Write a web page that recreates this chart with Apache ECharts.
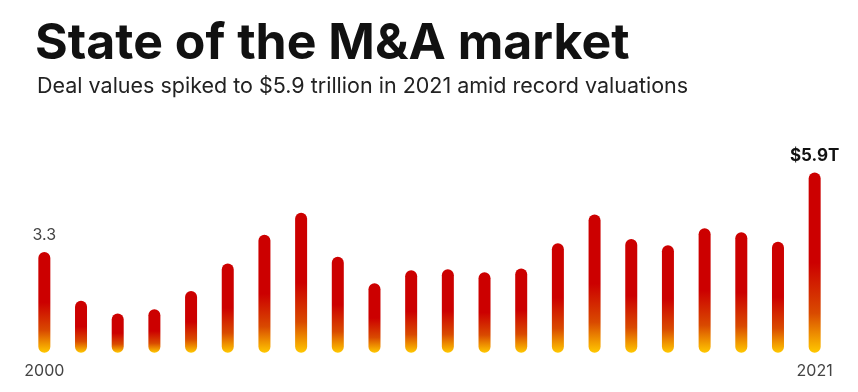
<!DOCTYPE html>
<html><head><meta charset="utf-8">
<script src="https://cdn.jsdelivr.net/npm/echarts@6/dist/echarts.min.js"></script>
</head>
<body style="margin:0;background:#fff">
<div id="c" style="width:858px;height:392px"></div>
<script>
const years = ['2000','2001','2002','2003','2004','2005','2006','2007','2008','2009','2010','2011','2012','2013','2014','2015','2016','2017','2018','2019','2020','2021'];
const dealValues = [3.3,1.70,1.28,1.42,2.02,2.92,3.86,4.58,3.14,2.27,2.70,2.73,2.63,2.76,3.58,4.52,3.72,3.52,4.07,3.94,3.63,5.9];
const labelTexts = {0:'3.3', 21:'$5.9T'};
const titleText = 'State of the M&A market';
const subtitleText = 'Deal values spiked to $5.9 trillion in 2021 amid record valuations';

const chart = echarts.init(document.getElementById('c'), null, {renderer:'canvas'});
const grad = new echarts.graphic.LinearGradient(0,0,0,1,[
  {offset:0,color:'#cc0000'},
  {offset:0.5,color:'#cc0000'},
  {offset:0.78,color:'#d94a00'},
  {offset:1,color:'#ffc800'}
]);
const data = dealValues.map((v,i)=>{
  const item = {value:v};
  if (labelTexts[i]!==undefined) {
    const last = i===dealValues.length-1;
    item.label = {show:true, position:'top', distance: last?8:9,
      formatter: labelTexts[i],
      fontFamily:'Inter', fontSize: last?17:16, fontWeight: last?700:400,
      color: last?'#111':'#444'};
  }
  return item;
});
chart.setOption({
  animation:false,
  title:[
    {text:titleText, left:30, top:14,
     textStyle:{fontFamily:'Inter', fontSize:50, fontWeight:700, color:'#111'}},
    {text:subtitleText, left:32, top:71,
     textStyle:{fontFamily:'Inter', fontSize:21.5, fontWeight:400, color:'#222'}}
  ],
  grid:{left:26, right:25, top:169.4, bottom:39.3},
  xAxis:{type:'category', data:years,
    axisLine:{show:false}, axisTick:{show:false},
    axisLabel:{interval:(i)=> i===0 || i===years.length-1, margin:10,
      fontFamily:'Inter', fontSize:16, color:'#444'}},
  yAxis:{type:'value', min:0, max:6, show:false, splitLine:{show:false}},
  series:[{type:'bar', data:data, barWidth:12,
    itemStyle:{color:grad, borderRadius:6}}]
});
</script>
</body></html>
